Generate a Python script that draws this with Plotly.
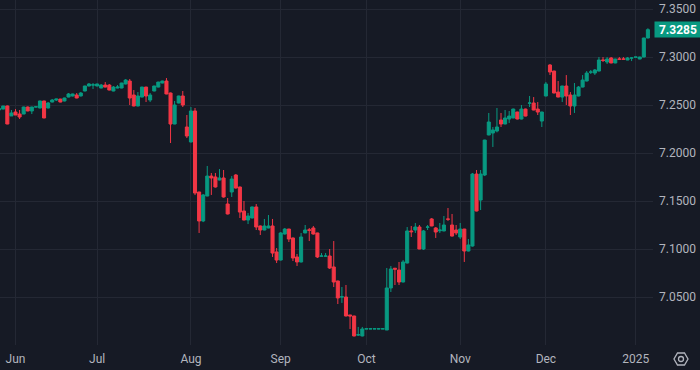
import pandas as pd
import plotly.graph_objects as go

# ---- data (USD/CNY daily candles) ----
dates = [d.strftime('%Y-%m-%d') for d in pd.bdate_range('2024-05-28', '2025-01-06')]

opens = [
    # May 28-31
    7.2450, 7.2458, 7.2490, 7.2386,
    # Jun
    7.2427, 7.2406, 7.2406, 7.2479, 7.2438, 7.2479, 7.2469, 7.2542, 7.2469, 7.2531,
    7.2552, 7.2562, 7.2542, 7.2583, 7.2594, 7.2604, 7.2594, 7.2646, 7.2698, 7.2708,
    # Jul
    7.2698, 7.2677, 7.2708, 7.2708, 7.2646, 7.2677, 7.2677, 7.2719, 7.2750, 7.2604,
    7.2490, 7.2583, 7.2687, 7.2552, 7.2646, 7.2687, 7.2729, 7.2750, 7.2625, 7.2302,
    7.2521, 7.2594, 7.2271,
    # Aug
    7.2115, 7.2438, 7.1594, 7.1292, 7.1552, 7.1760, 7.1750, 7.1719, 7.1740, 7.1469,
    7.1594, 7.1771, 7.1646, 7.1396, 7.1302, 7.1323, 7.1438, 7.1240, 7.1198, 7.1219,
    7.1240, 7.0969,
    # Sep
    7.0885, 7.1156, 7.1208, 7.1115, 7.0917, 7.0865, 7.1167, 7.1200, 7.1219, 7.1167,
    7.0925, 7.0925, 7.0927, 7.0813, 7.0667, 7.0500, 7.0500, 7.0313, 7.0302, 7.0104,
    7.0094,
    # Oct
    7.0167, 7.0167, 7.0167, 7.0167, 7.0167, 7.0156, 7.0594, 7.0800, 7.0781, 7.0656,
    7.0854, 7.1188, 7.1198, 7.1229, 7.1000, 7.1227, 7.1313, 7.1219, 7.1190, 7.1188,
    7.1313, 7.1250, 7.1198,
    # Nov
    7.1125, 7.1208, 7.0979, 7.1031, 7.1781, 7.1510, 7.1771, 7.2188, 7.2208, 7.2229,
    7.2344, 7.2302, 7.2354, 7.2365, 7.2427, 7.2354, 7.2458, 7.2519, 7.2521, 7.2458,
    7.2333,
    # Dec
    7.2594, 7.2917, 7.2854, 7.2635, 7.2583, 7.2698, 7.2604, 7.2490, 7.2594, 7.2687,
    7.2750, 7.2842, 7.2833, 7.2854, 7.2969, 7.2948, 7.2990, 7.2938, 7.2980, 7.2980,
    7.2969, 7.2989,
    # Jan
    7.2998, 7.2979, 7.3000, 7.3198,
]

highs = [
    7.2465, 7.2490, 7.2495, 7.2448,
    7.2458, 7.2448, 7.2482, 7.2485, 7.2482, 7.2482, 7.2545, 7.2545, 7.2531, 7.2562,
    7.2565, 7.2565, 7.2576, 7.2625, 7.2618, 7.2625, 7.2635, 7.2700, 7.2729, 7.2729,
    7.2722, 7.2719, 7.2739, 7.2719, 7.2698, 7.2708, 7.2732, 7.2770, 7.2771, 7.2656,
    7.2635, 7.2690, 7.2690, 7.2625, 7.2700, 7.2742, 7.2753, 7.2781, 7.2630, 7.2542,
    7.2597, 7.2646, 7.2396,
    7.2479, 7.2469, 7.1596, 7.1573, 7.1865, 7.1792, 7.1792, 7.1833, 7.1823, 7.1531,
    7.1760, 7.1781, 7.1650, 7.1500, 7.1375, 7.1442, 7.1469, 7.1245, 7.1313, 7.1354,
    7.1313, 7.1010,
    7.1177, 7.1219, 7.1210, 7.1120, 7.0948, 7.1167, 7.1250, 7.1219, 7.1240, 7.1170,
    7.0958, 7.0958, 7.1000, 7.1083, 7.0670, 7.0604, 7.0625, 7.0313, 7.0305, 7.0188,
    7.0188,
    7.0177, 7.0177, 7.0177, 7.0177, 7.0177, 7.0802, 7.0823, 7.0802, 7.0865, 7.0885,
    7.1229, 7.1240, 7.1271, 7.1250, 7.1198, 7.1250, 7.1323, 7.1229, 7.1271, 7.1344,
    7.1427, 7.1365, 7.1250,
    7.1271, 7.1210, 7.1104, 7.1792, 7.1823, 7.1823, 7.2138, 7.2417, 7.2271, 7.2469,
    7.2417, 7.2448, 7.2438, 7.2462, 7.2430, 7.2500, 7.2462, 7.2594, 7.2583, 7.2531,
    7.2430,
    7.2740, 7.2927, 7.2857, 7.2750, 7.2700, 7.2812, 7.2635, 7.2729, 7.2698, 7.2812,
    7.2854, 7.2865, 7.2875, 7.3000, 7.3000, 7.3000, 7.3000, 7.2982, 7.3000, 7.3000,
    7.3000, 7.3000,
    7.3000, 7.3003, 7.3200, 7.3300,
]

lows = [
    7.2440, 7.2455, 7.2300, 7.2386,
    7.2396, 7.2354, 7.2406, 7.2435, 7.2406, 7.2477, 7.2465, 7.2362, 7.2465, 7.2528,
    7.2542, 7.2528, 7.2538, 7.2580, 7.2590, 7.2570, 7.2590, 7.2643, 7.2695, 7.2667,
    7.2695, 7.2674, 7.2684, 7.2653, 7.2643, 7.2674, 7.2674, 7.2715, 7.2500, 7.2486,
    7.2486, 7.2580, 7.2531, 7.2531, 7.2643, 7.2684, 7.2726, 7.2612, 7.2104, 7.2300,
    7.2518, 7.2479, 7.2156,
    7.2110, 7.1562, 7.1167, 7.1280, 7.1550, 7.1563, 7.1640, 7.1715, 7.1535, 7.1360,
    7.1542, 7.1630, 7.1323, 7.1298, 7.1260, 7.1320, 7.1198, 7.1146, 7.1195, 7.1215,
    7.0917, 7.0854,
    7.0880, 7.1150, 7.1073, 7.0875, 7.0823, 7.0860, 7.1165, 7.1083, 7.1150, 7.0906,
    7.0925, 7.0925, 7.0792, 7.0604, 7.0427, 7.0438, 7.0298, 7.0167, 7.0090, 7.0094,
    7.0090,
    7.0167, 7.0167, 7.0167, 7.0167, 7.0167, 7.0156, 7.0552, 7.0625, 7.0625, 7.0652,
    7.0850, 7.1125, 7.1167, 7.0998, 7.0990, 7.1198, 7.1238, 7.1115, 7.1167, 7.1185,
    7.1292, 7.1130, 7.1146,
    7.1104, 7.0865, 7.0975, 7.1025, 7.1392, 7.1406, 7.1760, 7.2185, 7.2063, 7.2215,
    7.2271, 7.2300, 7.2313, 7.2362, 7.2350, 7.2350, 7.2382, 7.2479, 7.2445, 7.2396,
    7.2271,
    7.2590, 7.2813, 7.2622, 7.2580, 7.2531, 7.2500, 7.2396, 7.2417, 7.2590, 7.2684,
    7.2746, 7.2823, 7.2813, 7.2850, 7.2948, 7.2927, 7.2935, 7.2935, 7.2975, 7.2975,
    7.2967, 7.2958,
    7.2998, 7.2977, 7.2998, 7.3195,
]

closes = [
    7.2460, 7.2490, 7.2302, 7.2417,
    7.2396, 7.2375, 7.2479, 7.2438, 7.2479, 7.2481, 7.2542, 7.2365, 7.2521, 7.2552,
    7.2562, 7.2531, 7.2573, 7.2615, 7.2615, 7.2573, 7.2625, 7.2698, 7.2719, 7.2710,
    7.2719, 7.2708, 7.2687, 7.2656, 7.2687, 7.2687, 7.2729, 7.2760, 7.2573, 7.2490,
    7.2594, 7.2687, 7.2594, 7.2604, 7.2698, 7.2739, 7.2750, 7.2615, 7.2302, 7.2500,
    7.2594, 7.2500, 7.2177,
    7.2438, 7.1583, 7.1292, 7.1563, 7.1760, 7.1740, 7.1646, 7.1740, 7.1542, 7.1365,
    7.1729, 7.1635, 7.1385, 7.1302, 7.1344, 7.1438, 7.1229, 7.1198, 7.1240, 7.1240,
    7.0958, 7.0885,
    7.1167, 7.1208, 7.1104, 7.0906, 7.0865, 7.1125, 7.1198, 7.1195, 7.1156, 7.0917,
    7.0927, 7.0927, 7.0802, 7.0656, 7.0490, 7.0502, 7.0302, 7.0302, 7.0094, 7.0107,
    7.0167,
    7.0169, 7.0169, 7.0169, 7.0169, 7.0169, 7.0594, 7.0792, 7.0790, 7.0656, 7.0865,
    7.1188, 7.1180, 7.1229, 7.1000, 7.1188, 7.1229, 7.1240, 7.1177, 7.1198, 7.1250,
    7.1310, 7.1135, 7.1167,
    7.1208, 7.0979, 7.1042, 7.1781, 7.1396, 7.1781, 7.2135, 7.2323, 7.2240, 7.2271,
    7.2302, 7.2365, 7.2385, 7.2458, 7.2354, 7.2458, 7.2385, 7.2521, 7.2448, 7.2427,
    7.2427,
    7.2719, 7.2844, 7.2625, 7.2583, 7.2698, 7.2594, 7.2490, 7.2604, 7.2687, 7.2760,
    7.2833, 7.2844, 7.2865, 7.2969, 7.2965, 7.2979, 7.2938, 7.2979, 7.2977, 7.2977,
    7.2990, 7.2990,
    7.3000, 7.3000, 7.3198, 7.3285,
]

month_tick_dates = ['2024-06-03', '2024-07-01', '2024-08-01', '2024-09-02',
                    '2024-10-01', '2024-11-01', '2024-12-02', '2025-01-01']
month_tick_labels = ['Jun', 'Jul', 'Aug', 'Sep', 'Oct', 'Nov', 'Dec', '2025']
price_ticks = [7.05, 7.10, 7.15, 7.20, 7.25, 7.30, 7.35]
last_price = closes[-1]

# ---- style ----
BG = '#161A25'
GRID = '#242834'
TXT = '#B2B5BE'
UP = '#089981'
DOWN = '#F23645'
FONT = 'Roboto, "Noto Sans", sans-serif'

fig = go.Figure(go.Candlestick(
    x=dates, open=opens, high=highs, low=lows, close=closes,
    increasing=dict(line=dict(color=UP, width=1), fillcolor=UP),
    decreasing=dict(line=dict(color=DOWN, width=1), fillcolor=DOWN),
    whiskerwidth=0, hoverinfo='skip', showlegend=False,
))

fig.update_layout(
    width=700, height=370,
    margin=dict(l=0, r=47, t=0, b=25),
    paper_bgcolor=BG, plot_bgcolor=BG,
    font=dict(family=FONT, color=TXT, size=12),
    boxgap=0.25, boxgroupgap=0,
    showlegend=False,
    xaxis=dict(
        type='category', rangeslider=dict(visible=False),
        range=[0.2, 160.25],
        tickmode='array', tickvals=month_tick_dates, ticktext=month_tick_labels,
        showgrid=True, gridcolor=GRID, gridwidth=1,
        ticks='', showline=False, zeroline=False,
        ticklabelstandoff=5,
        tickfont=dict(family=FONT, color=TXT, size=12),
        fixedrange=True,
    ),
    yaxis=dict(
        side='right', range=[7.0, 7.3594],
        tickmode='array', tickvals=price_ticks,
        ticktext=[f'{v:.4f}' for v in price_ticks],
        showgrid=True, gridcolor=GRID, gridwidth=1,
        ticks='', showline=False, zeroline=False,
        ticklabelstandoff=5,
        tickfont=dict(family=FONT, color=TXT, size=12),
        fixedrange=True,
    ),
)

# last-price label on the price scale
fig.add_annotation(
    xref='paper', x=1.0, xanchor='left', xshift=1,
    yref='y', y=last_price, yanchor='middle',
    text=f'<b>{last_price:.4f}</b>', showarrow=False,
    bgcolor=UP, font=dict(family=FONT, color='#FFFFFF', size=12),
    width=46, height=15, borderpad=0, align='center',
)

# settings (hexagon) icon at bottom-right
r = 7
hexpath = 'M {} 0 L {} {} L {} {} L {} 0 L {} {} L {} {} Z'.format(
    r, r / 2, r * 0.86, -r / 2, r * 0.86, -r, -r / 2, -r * 0.86, r / 2, -r * 0.86)
fig.add_shape(type='path', xref='paper', yref='paper',
              xsizemode='pixel', ysizemode='pixel',
              xanchor=1 + 28 / 653, yanchor=-14 / 345,
              path=hexpath, line=dict(color=TXT, width=1.3))
fig.add_shape(type='circle', xref='paper', yref='paper',
              xsizemode='pixel', ysizemode='pixel',
              xanchor=1 + 28 / 653, yanchor=-14 / 345,
              x0=-2.5, x1=2.5, y0=-2.5, y1=2.5,
              line=dict(color=TXT, width=1.3))

fig.write_html('out.html', config={'displayModeBar': False, 'staticPlot': True},
               post_script="document.body.style.margin='0px';")
